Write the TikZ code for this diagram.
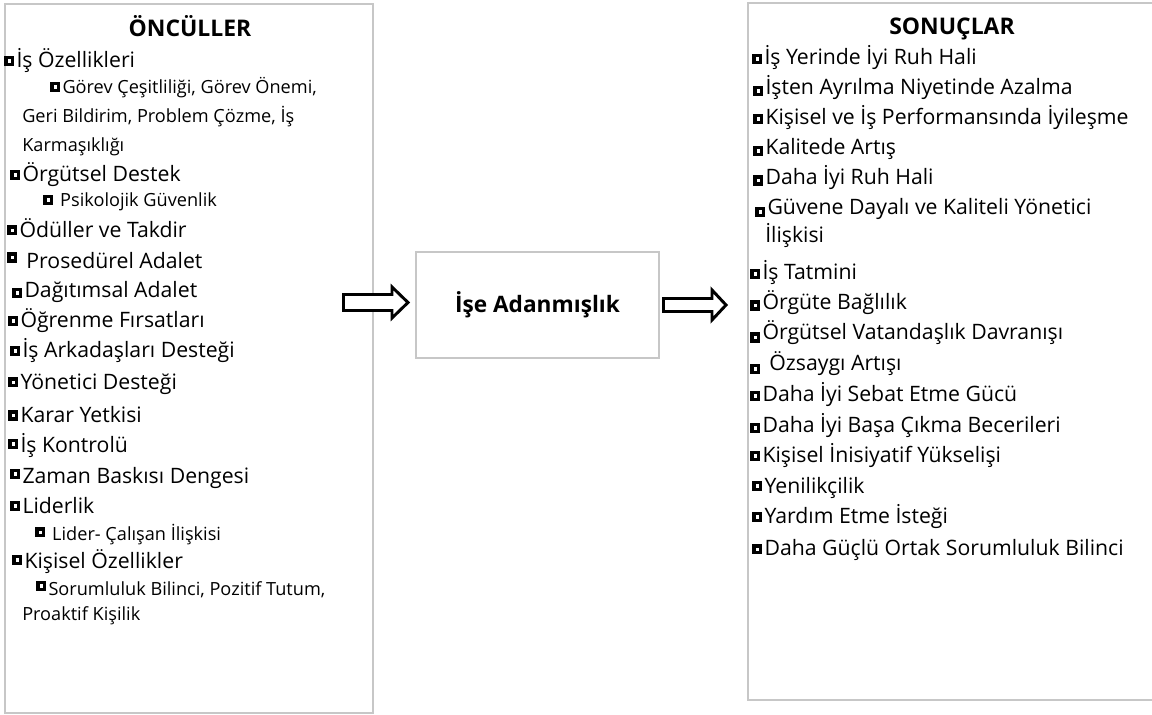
\documentclass[tikz,border=0pt]{standalone}
\usepackage{fontspec}
\setmainfont{Open Sans}
\usetikzlibrary{positioning}

% square bullet, #1 = height of its lower edge over the baseline
\newcommand{\bul}[1][0.7pt]{\raisebox{\dimexpr#1+2.3pt\relax}{\setlength{\fboxsep}{0pt}\setlength{\fboxrule}{2.3pt}\fbox{\rule{0pt}{2.6pt}\hspace{2.6pt}}}\hspace{1.5pt}\ignorespaces}

\begin{document}
\begin{tikzpicture}[x=0.025cm, y=-0.025cm,
        panel/.style={draw=black!22, line width=0.9pt},
        item/.style={anchor=base west, inner sep=0pt, font=\fontsize{15.1}{18}\selectfont},
        subitem/.style={anchor=base west, inner sep=0pt, font=\fontsize{12.9}{15}\selectfont},
        heading/.style={anchor=base, inner sep=0pt, font=\fontsize{16.3}{18}\selectfont\bfseries},
        blockarrow/.style={draw=black, line width=2.1pt, fill=white, line join=miter}]
    \useasboundingbox (0,0) rectangle (1152,715);

    % boxes
    \draw[panel] (5,4) rectangle (373,713);
    \draw[panel] (748,3) rectangle (1156,700);
    \node[panel, minimum width=6.075cm, minimum height=2.65cm, inner sep=0pt,
        font=\fontsize{16.1}{18}\selectfont\bfseries] (ise) at (537.5,305) {İşe Adanmışlık};

    % arrows
    \draw[blockarrow] (343.5,294.5) -- (392,294.5) -- (392,287) -- (408,302.5)
        -- (392,318) -- (392,310.5) -- (343.5,310.5) -- cycle;
    \draw[blockarrow] (663.5,298.5) -- (712,298.5) -- (712,290) -- (726,305)
        -- (712,320) -- (712,311.5) -- (663.5,311.5) -- cycle;

    % left list
    \node[heading] (oncul) at (190,37) {ÖNCÜLLER};
    \node[item] (isoz) at (4,68) {\bul[1.4pt] İş Özellikleri};
    \node[subitem] (gorev) at (50,94) {\bul[1.4pt] Görev Çeşitliliği, Görev Önemi,};
    \node[subitem] (geri) at (22,123) {Geri Bildirim, Problem Çözme, İş};
    \node[subitem] (karm) at (22,152) {Karmaşıklığı};
    \node[item] (orgdes) at (10,182) {\bul[1.4pt] Örgütsel Destek};
    \node[subitem] (psiko) at (43,207) {\bul[1.4pt]\ Psikolojik Güvenlik};
    \node[item] (odul) at (7,238) {\bul[1.8pt] Ödüller ve Takdir};
    \node[item] (prose) at (7,269) {\bul[4.6pt]\hspace{1pt} Prosedürel Adalet};
    \node[item] (dagit) at (12,298) {\bul[0pt] Dağıtımsal Adalet};
    \node[item] (ogren) at (8,328) {\bul[1.4pt] Öğrenme Fırsatları};
    \node[item] (arkad) at (10,358) {\bul[1.4pt] İş Arkadaşları Desteği};
    \node[item] (yondes) at (8,390) {\bul[1.8pt] Yönetici Desteği};
    \node[item] (karar) at (8,422) {\bul[1pt] Karar Yetkisi};
    \node[item] (kontrol) at (8,452) {\bul[2.2pt] İş Kontrolü};
    \node[item] (zaman) at (10,483) {\bul[2.6pt] Zaman Baskısı Dengesi};
    \node[item] (lider) at (10,513) {\bul[1.4pt] Liderlik};
    \node[subitem] (lidcal) at (35,540) {\bul[1.8pt]\ Lider- Çalışan İlişkisi};
    \node[item] (kisoz) at (12,568) {\bul[2.2pt] Kişisel Özellikler};
    \node[subitem] (sorum) at (36,595) {\bul[2.6pt] Sorumluluk Bilinci, Pozitif Tutum,};
    \node[subitem] (proak) at (22,620) {Proaktif Kişilik};

    % right list
    \node[heading] (sonuc) at (952,35) {SONUÇLAR};
    \node[item] (ruhis) at (752,65) {\bul İş Yerinde İyi Ruh Hali};
    \node[item] (ayril) at (753,95) {\bul[-0.7pt] İşten Ayrılma Niyetinde Azalma};
    \node[item] (perf) at (753,125) {\bul Kişisel ve İş Performansında İyileşme};
    \node[item] (kalite) at (753,155) {\bul[-0.7pt] Kalitede Artış};
    \node[item] (ruhdaha) at (753,185) {\bul[-0.4pt] Daha İyi Ruh Hali};
    \node[item] (guven) at (755,215) {\bul[-1.4pt] Güvene Dayalı ve Kaliteli Yönetici};
    \node[item] (iliski) at (765,243) {İlişkisi};
    \node[item] (tatmin) at (750,280) {\bul İş Tatmini};
    \node[item] (bagli) at (750,310) {\bul[-0.4pt] Örgüte Bağlılık};
    \node[item] (vatan) at (750,340) {\bul[-1.8pt] Örgütsel Vatandaşlık Davranışı};
    \node[item] (ozsay) at (750,370) {\bul[-3pt]\hspace{1pt} Özsaygı Artışı};
    \node[item] (sebat) at (750,402) {\bul[0.7pt] Daha İyi Sebat Etme Gücü};
    \node[item] (basa) at (750,432) {\bul[-0.7pt] Daha İyi Başa Çıkma Becerileri};
    \node[item] (inisi) at (750,462) {\bul[0.7pt] Kişisel İnisiyatif Yükselişi};
    \node[item] (yenil) at (752,493) {\bul[1.4pt] Yenilikçilik};
    \node[item] (yardim) at (752,523) {\bul[0.7pt] Yardım Etme İsteği};
    \node[item] (gucl) at (752,555) {\bul[0.4pt] Daha Güçlü Ortak Sorumluluk Bilinci};
\end{tikzpicture}
\end{document}
